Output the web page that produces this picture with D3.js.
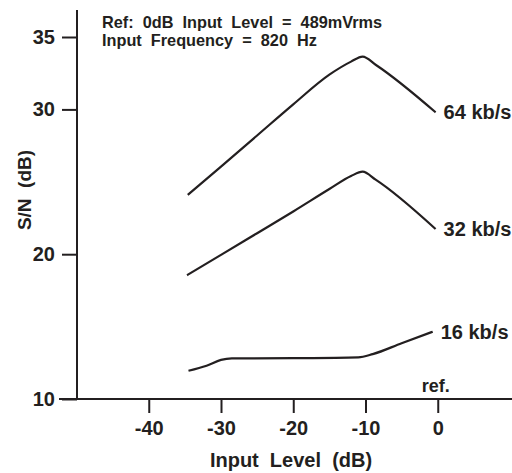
<!DOCTYPE html>
<html>
<head>
<meta charset="utf-8">
<script src="https://d3js.org/d3.v7.min.js"></script>
<style>
  html, body { margin: 0; padding: 0; background: #fff; }
  svg text {
    font-family: "Liberation Sans", Arial, Helvetica, sans-serif;
    font-weight: bold;
    fill: #231f20;
    white-space: pre;
  }
</style>
</head>
<body>
<div id="chart"></div>
<script>
// ticks
const xTicks = [-40, -30, -20, -10, 0];
const yTicks = [10, 20, 30, 35];

// series (input level dB -> S/N dB)
const seriesNames = ["64 kb/s", "32 kb/s", "16 kb/s"];
const level64 = [-34.6, -30, -25, -20, -15, -12, -10.4, -8.5, -0.3];
const snr64   = [24.1, 26.05, 28.2, 30.35, 32.4, 33.3, 33.65, 33.05, 29.8];
const level32 = [-34.7, -30, -25, -20, -15, -12, -10.4, -8.6, -0.3];
const snr32   = [18.55, 19.95, 21.45, 22.95, 24.5, 25.4, 25.7, 25.15, 21.74];
const level16 = [-34.5, -32, -30, -28.5, -20, -11, -9, -5, -0.7];
const snr16   = [11.95, 12.3, 12.7, 12.8, 12.82, 12.88, 13.1, 13.85, 14.65];

const width = 512, height = 473;

const svg = d3.select("#chart").append("svg")
  .attr("width", width)
  .attr("height", height);

// scales
const x = d3.scaleLinear().domain([-50, 10]).range([76.5, 510]);
const y = d3.scaleLinear().domain([10, 35]).range([399, 37]);

// axis lines
svg.append("line")
  .attr("x1", 77).attr("x2", 77)
  .attr("y1", y(10)).attr("y2", 10)
  .attr("stroke", "#231f20").attr("stroke-width", 2);
svg.append("line")
  .attr("x1", 59).attr("x2", width)
  .attr("y1", y(10)).attr("y2", y(10))
  .attr("stroke", "#231f20").attr("stroke-width", 2);

// y ticks
const yAxis = svg.append("g")
  .attr("transform", "translate(77,0)")
  .call(d3.axisLeft(y).tickValues(yTicks).tickSize(15).tickPadding(7)
    .tickFormat(d => String(d)));
yAxis.select(".domain").remove();
yAxis.selectAll("line").attr("stroke", "#231f20").attr("stroke-width", 2);
yAxis.selectAll("text").attr("font-size", 20).attr("fill", "#231f20");

// x ticks
const xAxis = svg.append("g")
  .attr("transform", "translate(0," + y(10) + ")")
  .call(d3.axisBottom(x).tickValues(xTicks).tickSize(14).tickPadding(8)
    .tickFormat(d => String(d)));
xAxis.select(".domain").remove();
xAxis.selectAll("line").attr("stroke", "#231f20").attr("stroke-width", 2);
xAxis.selectAll("text").attr("font-size", 20).attr("fill", "#231f20");

// axis titles
svg.append("text")
  .attr("x", 291).attr("y", 467)
  .attr("text-anchor", "middle")
  .attr("font-size", 20)
  .text("Input  Level  (dB)");

svg.append("text")
  .attr("transform", "translate(31,190) rotate(-90)")
  .attr("text-anchor", "middle")
  .attr("font-size", 19)
  .text("S/N  (dB)");

// note
svg.append("text")
  .attr("x", 102).attr("y", 28)
  .attr("font-size", 16.3)
  .text("Ref:  0dB  Input  Level  =  489mVrms");
svg.append("text")
  .attr("x", 102).attr("y", 46)
  .attr("font-size", 16.3)
  .text("Input  Frequency  =  820  Hz");

// curves
const line = d3.line()
  .x(d => x(d[0]))
  .y(d => y(d[1]))
  .curve(d3.curveMonotoneX);

const series = [
  { name: seriesNames[0], pts: d3.zip(level64, snr64) },
  { name: seriesNames[1], pts: d3.zip(level32, snr32) },
  { name: seriesNames[2], pts: d3.zip(level16, snr16) }
];

svg.selectAll(".curve")
  .data(series)
  .enter().append("path")
  .attr("class", "curve")
  .attr("d", d => line(d.pts))
  .attr("fill", "none")
  .attr("stroke", "#231f20")
  .attr("stroke-width", 2.2);

svg.selectAll(".slabel")
  .data(series)
  .enter().append("text")
  .attr("class", "slabel")
  .attr("x", d => x(d.pts[d.pts.length - 1][0]) + 8)
  .attr("y", d => y(d.pts[d.pts.length - 1][1]) + 7)
  .attr("font-size", 20)
  .text(d => d.name);

// ref. marker above 0 dB
svg.append("text")
  .attr("x", x(0) - 2).attr("y", 392)
  .attr("text-anchor", "middle")
  .attr("font-size", 18)
  .text("ref.");
</script>
</body>
</html>
